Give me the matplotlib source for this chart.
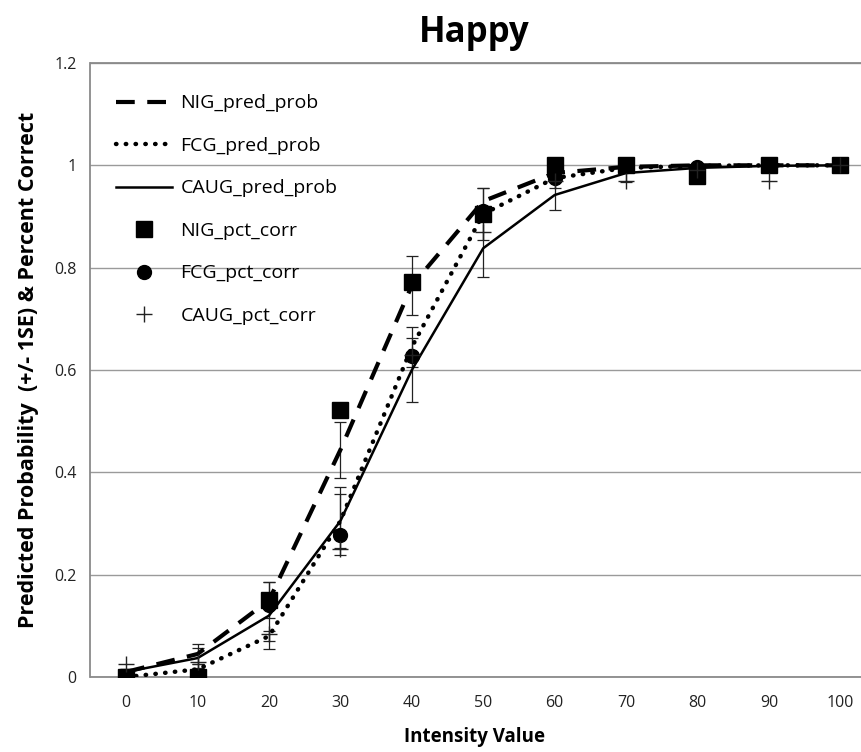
import numpy as np
import matplotlib.pyplot as plt

plt.rcParams['font.family'] = ['Open Sans', 'DejaVu Sans']

# Intensity values (x axis)
intensity = [0, 10, 20, 30, 40, 50, 60, 70, 80, 90, 100]

# Predicted probabilities
nig_pred = [0.01, 0.045, 0.15, 0.444, 0.765, 0.93, 0.985, 0.997, 1.0, 1.0, 1.0]
fcg_pred = [0.0, 0.015, 0.08, 0.305, 0.645, 0.905, 0.975, 0.995, 0.999, 1.0, 1.0]
caug_pred = [0.01, 0.037, 0.12, 0.305, 0.60, 0.838, 0.942, 0.985, 0.995, 0.999, 1.0]

# Standard errors of the predicted probabilities
nig_se = [0.005, 0.02, 0.035, 0.055, 0.058, 0.025, 0.01, 0.003, 0.0, 0.0, 0.0]
fcg_se = [0.0, 0.01, 0.01, 0.067, 0.04, 0.05, 0.02, 0.005, 0.001, 0.0, 0.0]
caug_se = [0.005, 0.02, 0.065, 0.052, 0.063, 0.056, 0.03, 0.017, 0.005, 0.001, 0.0]

# Observed percent correct
nig_pct = [0.0, 0.0, 0.15, 0.522, 0.772, 0.905, 1.0, 1.0, 0.98, 1.0, 1.0]
fcg_pct = [0.0, 0.0, 0.14, 0.277, 0.627, 0.91, 0.975, 1.0, 0.997, 1.0, 1.0]
caug_pct = [0.025, 0.03, 0.085, 0.25, 0.63, 0.87, 0.97, 0.97, 0.99, 0.97, 1.0]

fig = plt.figure(figsize=(8.62, 7.52), dpi=100)
ax = fig.add_axes([90.5 / 862, 75 / 752, 785.5 / 862, 614 / 752])

# error bars (+/- 1 SE) on the predicted probabilities
for pred, se in [(nig_pred, nig_se), (fcg_pred, fcg_se), (caug_pred, caug_se)]:
    ax.errorbar(intensity, pred, yerr=se, fmt='none', ecolor='#222222',
                elinewidth=0.9, capsize=4, capthick=0.9, zorder=3)

# predicted probability curves
ax.plot(intensity, nig_pred, color='black', lw=3, dashes=(4.5, 3),
        label='NIG_pred_prob', zorder=4)
ax.plot(intensity, fcg_pred, color='black', lw=3.2, dashes=(0.1, 2.1),
        dash_capstyle='round', label='FCG_pred_prob', zorder=4)
ax.plot(intensity, caug_pred, color='black', lw=1.8,
        label='CAUG_pred_prob', zorder=4)

# percent correct markers
ax.plot(intensity, nig_pct, ls='none', marker='s', ms=11, color='black',
        label='NIG_pct_corr', zorder=5)
ax.plot(intensity, fcg_pct, ls='none', marker='o', ms=10, color='black',
        label='FCG_pct_corr', zorder=5)
ax.plot(intensity, caug_pct, ls='none', marker='+', ms=11, mew=1, color='#222222',
        label='CAUG_pct_corr', zorder=5)

ax.set_xlim(-5, 105)
ax.set_ylim(0, 1.2)
ax.set_xticks(intensity)
ax.set_yticks([0, 0.2, 0.4, 0.6, 0.8, 1.0, 1.2])
ax.set_yticklabels(['0', '0.2', '0.4', '0.6', '0.8', '1', '1.2'])
ax.tick_params(length=0, labelsize=11.5, colors='#222222')
ax.tick_params(axis='x', pad=13)
ax.tick_params(axis='y', pad=10)
ax.yaxis.grid(True, color='#9a9a9a', lw=1)
ax.set_axisbelow(True)

for side in ['left', 'bottom', 'top']:
    ax.spines[side].set_color('#8a8a8a')
    ax.spines[side].set_linewidth(1.3)
ax.spines['right'].set_visible(False)

ax.set_ylabel('Predicted Probability  (+/- 1SE) & Percent Correct',
              fontsize=15.5, fontweight='bold', labelpad=11)
fig.text(475 / 862, 1 - 737 / 752, 'Intensity Value', fontsize=13.5,
         fontweight='bold', ha='center', va='center')
fig.text(474 / 862, 1 - 33 / 752, 'Happy', fontsize=25,
         fontweight='bold', ha='center', va='center')

ax.legend(loc='upper left', bbox_to_anchor=(0.033, 0.949), frameon=False,
          fontsize=14, borderpad=0, borderaxespad=0, labelspacing=1.26,
          handlelength=2.85, handletextpad=0.45)

fig.savefig('out.png', dpi=100)
